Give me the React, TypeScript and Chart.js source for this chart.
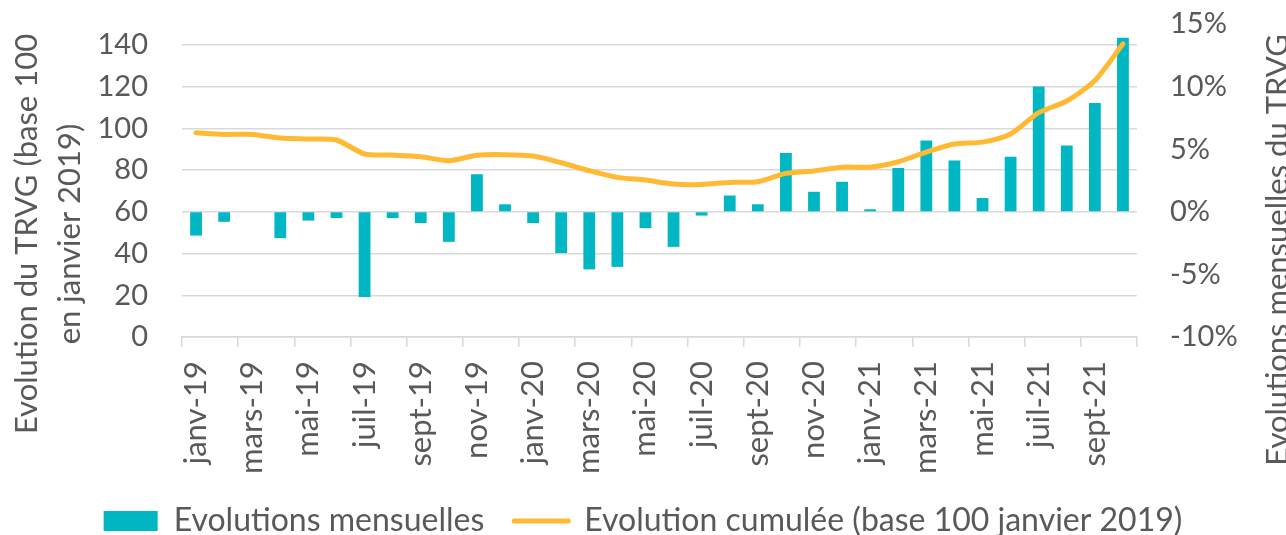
import React, { useEffect, useRef } from 'react';
import { Chart, registerables } from 'chart.js';

Chart.register(...registerables);

// ---- Data ----
const MONTHS = [
  'janv-19', 'févr-19', 'mars-19', 'avr-19', 'mai-19', 'juin-19', 'juil-19', 'août-19', 'sept-19', 'oct-19', 'nov-19', 'déc-19',
  'janv-20', 'févr-20', 'mars-20', 'avr-20', 'mai-20', 'juin-20', 'juil-20', 'août-20', 'sept-20', 'oct-20', 'nov-20', 'déc-20',
  'janv-21', 'févr-21', 'mars-21', 'avr-21', 'mai-21', 'juin-21', 'juil-21', 'août-21', 'sept-21', 'oct-21',
];

// Monthly evolution (%), right axis
const MONTHLY = [
  -1.9, -0.8, 0, -2.1, -0.7, -0.5, -6.8, -0.5, -0.9, -2.4, 3.0, 0.6,
  -0.9, -3.3, -4.6, -4.4, -1.3, -2.8, -0.3, 1.3, 0.6, 4.7, 1.6, 2.4,
  0.2, 3.5, 5.7, 4.1, 1.1, 4.4, 10.0, 5.3, 8.7, 13.9,
];

// Cumulative index (base 100 janvier 2019), left axis
const CUMUL = [
  97.9, 97.1, 97.1, 95.4, 94.9, 94.4, 87.7, 87.2, 86.4, 84.5, 87.1, 87.4,
  86.7, 83.5, 79.7, 76.5, 75.2, 73.3, 73.1, 74.1, 74.4, 78.4, 79.6, 81.4,
  81.4, 84.0, 88.6, 92.5, 93.4, 97.3, 107.5, 113.1, 122.9, 140.5,
];

const LEFT_TITLE = ['Evolution du TRVG (base 100', 'en janvier 2019)'];
const RIGHT_TITLE = 'Evolutions mensuelles du TRVG';
const BAR_LABEL = 'Evolutions mensuelles';
const LINE_LABEL = 'Evolution cumulée (base 100 janvier 2019)';

const LEFT_MIN = 0;
const LEFT_MAX = 150;
const LEFT_STEP = 20;
const RIGHT_MIN = -10;
const RIGHT_MAX = 15;
const RIGHT_STEP = 5;

// ---- Styles ----
const TEAL = '#00B7C3';
const ORANGE = '#FFB933';
const TEXT = '#595959';
const GRID = '#D9D9D9';
const CLEAR = 'rgba(0,0,0,0)';
const FONT = 'Lato';

const titlePlugin = {
  id: 'axisTitles',
  afterDraw(chart: any) {
    const ctx = chart.ctx;
    const cy = 234;
    ctx.save();
    ctx.fillStyle = TEXT;
    ctx.font = `31px ${FONT}`;
    ctx.textAlign = 'center';
    ctx.textBaseline = 'alphabetic';
    const draw = (text: string, x: number, y: number) => {
      ctx.save();
      ctx.translate(x, y);
      ctx.rotate(-Math.PI / 2);
      ctx.fillText(text, 0, 0);
      ctx.restore();
    };
    draw(LEFT_TITLE[0], 37, cy);
    draw(LEFT_TITLE[1], 80, cy);
    draw(RIGHT_TITLE, chart.width + 2, cy + 16);
    ctx.restore();
  },
};

export default function App() {
  const canvasRef = useRef<HTMLCanvasElement | null>(null);

  useEffect(() => {
    if (!canvasRef.current) return;
    const tickFont = { family: FONT, size: 29 };
    const xFont = { family: FONT, size: 31 };
    const legendFont = { family: FONT, size: 32 };
    const chart = new Chart(canvasRef.current, {
      type: 'bar',
      data: {
        labels: MONTHS,
        datasets: [
          {
            type: 'bar',
            label: BAR_LABEL,
            data: MONTHLY,
            backgroundColor: TEAL,
            yAxisID: 'y1',
            order: 1,
            barPercentage: 0.42,
            categoryPercentage: 1,
          } as any,
          {
            type: 'line',
            label: LINE_LABEL,
            data: CUMUL,
            borderColor: ORANGE,
            backgroundColor: ORANGE,
            borderWidth: 5,
            pointRadius: 0,
            tension: 0.25,
            borderCapStyle: 'round',
            borderJoinStyle: 'round',
            yAxisID: 'y',
            order: 0,
          } as any,
        ],
      },
      options: {
        animation: false,
        responsive: true,
        maintainAspectRatio: false,
        layout: { padding: { top: 24, bottom: -12, left: 0, right: 0 } },
        plugins: {
          tooltip: { enabled: false },
          legend: {
            position: 'bottom',
            labels: {
              usePointStyle: true,
              pointStyleWidth: 54,
              boxHeight: 20,
              padding: 30,
              color: TEXT,
              font: legendFont,
              generateLabels: (c: any) => [
                {
                  text: c.data.datasets[0].label,
                  fillStyle: TEAL,
                  strokeStyle: TEAL,
                  lineWidth: 0,
                  pointStyle: 'rect',
                  datasetIndex: 0,
                  hidden: false,
                  fontColor: TEXT,
                },
                {
                  text: c.data.datasets[1].label,
                  fillStyle: ORANGE,
                  strokeStyle: ORANGE,
                  lineWidth: 5,
                  lineCap: 'round',
                  pointStyle: 'line',
                  datasetIndex: 1,
                  hidden: false,
                  fontColor: TEXT,
                },
              ],
            },
          },
        },
        scales: {
          x: {
            grid: {
              drawOnChartArea: false,
              tickLength: 10,
              lineWidth: 1.5,
              color: (c: any) => (c.index === undefined || c.index % 2 === 0 ? GRID : CLEAR),
            },
            border: { color: GRID, width: 1.5 },
            ticks: {
              autoSkip: false,
              minRotation: 90,
              maxRotation: 90,
              padding: 14,
              color: TEXT,
              font: xFont,
              callback: (_v: any, i: number) => (i % 2 === 0 ? MONTHS[i] : ''),
            },
            afterFit: (s: any) => {
              s.height = 138;
            },
          },
          y: {
            position: 'left',
            min: LEFT_MIN,
            max: LEFT_MAX,
            ticks: { stepSize: LEFT_STEP, includeBounds: false, padding: 3, color: TEXT, font: tickFont },
            grid: { color: GRID, lineWidth: 1.5, drawTicks: true, tickLength: 31, tickColor: CLEAR },
            border: { display: false },
            afterFit: (s: any) => {
              s.width = 182;
            },
          },
          y1: {
            position: 'right',
            min: RIGHT_MIN,
            max: RIGHT_MAX,
            ticks: {
              stepSize: RIGHT_STEP,
              padding: 3,
              color: TEXT,
              font: tickFont,
              callback: (v: any) => `${v}%`,
            },
            grid: { drawOnChartArea: false, drawTicks: true, tickLength: 30, tickColor: CLEAR, color: CLEAR },
            border: { display: false },
            afterFit: (s: any) => {
              s.width = 149;
            },
          },
        },
      } as any,
      plugins: [titlePlugin],
    });
    return () => chart.destroy();
  }, []);

  return (
    <div style={{ position: 'absolute', left: 0, top: 0, width: 1286, height: 535, background: '#fff' }}>
      <canvas ref={canvasRef} />
    </div>
  );
}
